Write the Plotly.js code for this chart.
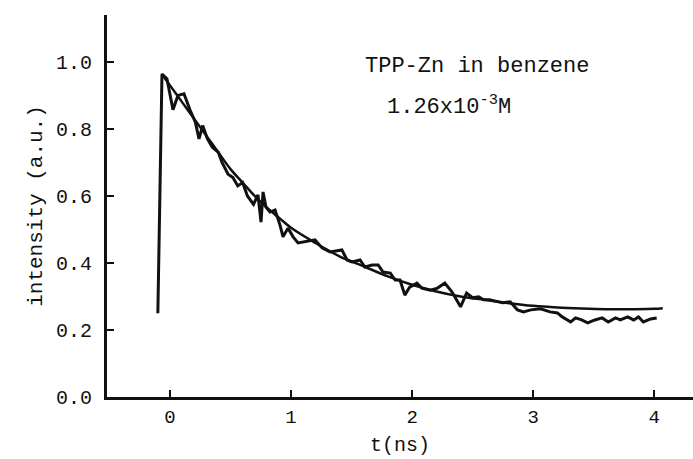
<!DOCTYPE html>
<html>
<head>
<meta charset="utf-8">
<script src="https://cdn.plot.ly/plotly-3.0.1.min.js"></script>
<style>html,body{margin:0;padding:0;background:#fff;}#chart{width:693px;height:459px;}</style>
</head>
<body>
<div id="chart"></div>
<script>
// measured decay (noisy trace)
var dataT = [-0.10,-0.066,-0.025,0.025,0.066,0.116,0.165,0.21,0.24,0.27,0.31,0.35,0.40,0.43,0.48,0.52,0.56,0.60,0.64,0.69,0.727,0.752,0.769,0.793,0.826,0.868,0.909,0.934,0.975,1.017,1.058,1.116,1.198,1.256,1.322,1.42,1.463,1.504,1.57,1.61,1.67,1.72,1.76,1.82,1.86,1.90,1.94,1.98,2.04,2.08,2.15,2.21,2.27,2.33,2.40,2.45,2.50,2.55,2.59,2.64,2.70,2.75,2.81,2.87,2.92,2.98,3.06,3.14,3.20,3.24,3.31,3.35,3.40,3.45,3.51,3.57,3.62,3.68,3.72,3.78,3.83,3.87,3.91,3.97,4.02];
var dataI = [0.25,0.964,0.95,0.857,0.90,0.905,0.857,0.82,0.77,0.81,0.77,0.745,0.73,0.70,0.665,0.655,0.63,0.64,0.60,0.575,0.603,0.522,0.612,0.567,0.552,0.558,0.513,0.478,0.504,0.478,0.46,0.463,0.469,0.445,0.433,0.439,0.409,0.403,0.409,0.388,0.394,0.394,0.373,0.37,0.349,0.349,0.304,0.328,0.340,0.325,0.319,0.325,0.340,0.313,0.269,0.310,0.296,0.299,0.290,0.290,0.284,0.281,0.284,0.260,0.254,0.260,0.263,0.254,0.251,0.239,0.224,0.236,0.230,0.221,0.230,0.236,0.224,0.236,0.230,0.239,0.230,0.239,0.224,0.233,0.236];
// fitted curve (smooth)
var fitT = [-0.05,0,0.1,0.2,0.3,0.4,0.5,0.6,0.7,0.8,0.9,1.0,1.2,1.4,1.6,1.8,2.0,2.2,2.4,2.6,2.8,3.0,3.2,3.4,3.6,3.8,4.0,4.07];
var fitI = [0.955,0.93,0.88,0.83,0.78,0.73,0.68,0.64,0.60,0.565,0.535,0.505,0.46,0.42,0.39,0.36,0.335,0.315,0.30,0.29,0.28,0.272,0.267,0.264,0.262,0.262,0.263,0.265];
var xTicks = [0,1,2,3,4];
var xTickText = ['0','1','2','3','4'];
var yTicks = [0,0.2,0.4,0.6,0.8,1.0];
var yTickText = ['0.0','0.2','0.4','0.6','0.8','1.0'];

var mono = 'Liberation Mono';
var traces = [
  {x: dataT, y: dataI, mode: 'lines', line: {color: '#111', width: 3}, hoverinfo: 'skip', showlegend: false},
  {x: fitT, y: fitI, mode: 'lines', line: {color: '#111', width: 2.5, shape: 'spline'}, hoverinfo: 'skip', showlegend: false}
];
var layout = {
  width: 693, height: 459,
  margin: {l: 107, r: 0, t: 15, b: 62},
  paper_bgcolor: '#fff', plot_bgcolor: '#fff',
  showlegend: false,
  font: {family: mono, color: '#111'},
  xaxis: {
    range: [-0.52, 4.32], tickvals: xTicks, ticktext: xTickText,
    ticks: 'inside', ticklen: 7, tickwidth: 2, tickcolor: '#111',
    showline: true, linecolor: '#111', linewidth: 3, showgrid: false, zeroline: false,
    tickfont: {family: mono, size: 19, color: '#111'},
    title: {text: 't(ns)', font: {family: mono, size: 20, color: '#111'}, standoff: 10}
  },
  yaxis: {
    range: [0, 1.14], tickvals: yTicks, ticktext: yTickText,
    ticks: 'inside', ticklen: 7, tickwidth: 2, tickcolor: '#111',
    showline: true, linecolor: '#111', linewidth: 3, showgrid: false, zeroline: false,
    ticklabelstandoff: 8,
    tickfont: {family: mono, size: 20, color: '#111'},
    title: {text: 'intensity (a.u.)', font: {family: mono, size: 21, color: '#111'}, standoff: 8}
  },
  annotations: [
    {x: 2.54, y: 0.985, xref: 'x', yref: 'y', text: 'TPP-Zn in benzene', showarrow: false,
     font: {family: mono, size: 22, color: '#111'}, xanchor: 'center', yanchor: 'middle'},
    {x: 1.78, y: 0.87, xref: 'x', yref: 'y', text: '1.26x10<sup>-3</sup>M', showarrow: false,
     font: {family: mono, size: 22, color: '#111'}, xanchor: 'left', yanchor: 'middle'}
  ]
};
Plotly.newPlot('chart', traces, layout, {staticPlot: true, displayModeBar: false});
</script>
</body>
</html>
